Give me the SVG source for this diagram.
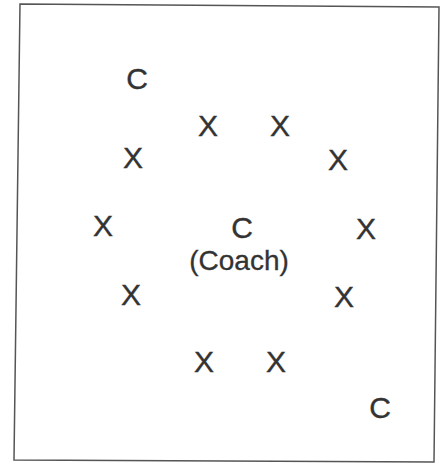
<svg xmlns="http://www.w3.org/2000/svg" width="445" height="466" viewBox="0 0 445 466">
<style>
.t{font-family:"Liberation Sans",Arial,sans-serif;font-size:30px;fill:#333;stroke:#333;stroke-width:0.4;text-anchor:middle}
.s{font-family:"Liberation Sans",Arial,sans-serif;font-size:28px;fill:#333;stroke:#333;stroke-width:0.3;text-anchor:middle}
</style>
<rect width="445" height="466" fill="#ffffff"/>
<polygon points="20,4 439,7 434,462 14,460" fill="none" stroke="#555" stroke-width="1.5"/>
<g id="coach-top"><text class="t" x="137" y="89">C</text></g>
<g id="p1"><text class="t" x="208" y="136">X</text></g>
<g id="p2"><text class="t" x="280" y="136">X</text></g>
<g id="p3"><text class="t" x="133" y="168">X</text></g>
<g id="p4"><text class="t" x="338" y="170">X</text></g>
<g id="p5"><text class="t" x="103" y="236">X</text></g>
<g id="coach-center"><text class="t" x="242" y="238">C</text><text class="s" x="239" y="270">(Coach)</text></g>
<g id="p6"><text class="t" x="366" y="239">X</text></g>
<g id="p7"><text class="t" x="131" y="305">X</text></g>
<g id="p8"><text class="t" x="344" y="307">X</text></g>
<g id="p9"><text class="t" x="204" y="372">X</text></g>
<g id="p10"><text class="t" x="276" y="372">X</text></g>
<g id="coach-bottom"><text class="t" x="380" y="418">C</text></g>
<g id="connectors"></g>
</svg>
